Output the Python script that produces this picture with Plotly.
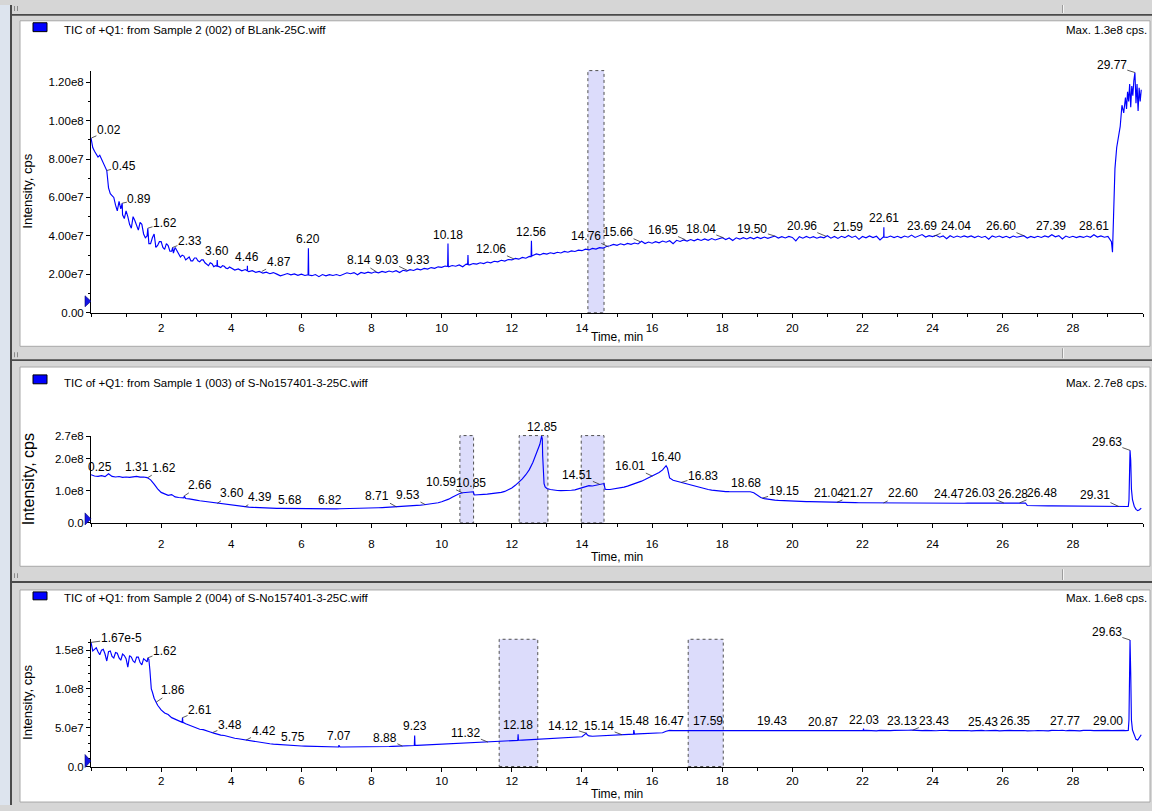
import numpy as np
import plotly.graph_objects as go

W, H = 1152, 811
FONT = "Liberation Sans, Arial, sans-serif"
BLUE = "#0000ff"

# ---------------------------------------------------------------------------
# Sampling grid shared by the three TIC runs (minutes): 0.0 ... 29.4
GRID_T = [round(0.1 * i, 1) for i in range(295)]

# Run A: Sample 2 (002) of BLank-25C.wiff  -- intensity in 1e6 cps
BLANK_I = [
    91, 84, 81, 80, 76, 65, 61, 56, 58, 51,
    53, 46, 50, 45, 47, 41, 40, 36, 41, 35,
    37, 33, 35, 32, 34, 31, 30, 27.5, 29, 27,
    28.5, 26.5, 27.5, 25, 26, 24, 27.5, 23.5, 24.2, 23,
    23.2, 22.2, 22.8, 21.8, 22.5, 21.4, 21.9, 21, 21.5, 20.6,
    21.1, 20.3, 20.9, 20.1, 19.2, 19.8, 20.4, 19.7, 20.2, 19.5,
    20.1, 19.4, 33.5, 19.3, 19.9, 18.8, 19.9, 19.2, 19.8, 19.4,
    19.9, 19.3, 20.2, 20.8, 20.3, 20.9, 19.8, 21, 20.5, 21.1,
    20.6, 21.3, 20.8, 21.5, 21, 21.7, 21.2, 21.9, 20.9, 22.1,
    21.7, 22.4, 22, 22.8, 22.3, 23.1, 22.7, 23.5, 23.1, 23.9,
    23.6, 24.3, 23.9, 24.6, 24.2, 24.9, 23.9, 25.3, 24.9, 25.6,
    25.3, 26, 25.6, 26.4, 26, 26.8, 26.5, 27.3, 26.9, 27.7,
    27.5, 28.3, 27.9, 28.8, 28.4, 29.3, 29.8, 30.6, 30.1, 30.9,
    30.5, 31.2, 30.8, 31.5, 31.1, 31.9, 31.5, 32.2, 31.9, 32.6,
    32.3, 33.1, 32.7, 33.5, 33.1, 33.9, 33.6, 34.5, 34.9, 35.6,
    35.1, 35.9, 35.3, 36.1, 35.6, 36.3, 35.8, 37.2, 36, 36.8,
    36.2, 37, 36.4, 37.3, 36.7, 37.5, 35.9, 37.7, 37.1, 37.9,
    37.3, 38.1, 37.4, 38.3, 37.6, 38.4, 37.7, 38.6, 37.9, 38.7,
    39.1, 38.1, 38.9, 37.6, 39, 38.3, 39.1, 38.4, 39.2, 38.5,
    39.3, 38.6, 39.4, 38.7, 39.3, 39.9, 38.9, 39.6, 38.9, 39.7,
    39.2, 37.4, 39.6, 38.8, 39.7, 38.9, 39.6, 38.8, 39.5, 39,
    40.1, 38.8, 39.7, 38.7, 39.8, 39.1, 40.2, 39.2, 39.9, 38.2,
    39.7, 39, 40, 39.1, 39.8, 37.9, 39.5, 39.2, 39.9, 39.1,
    39.8, 39, 39.9, 39.3, 40.4, 39.2, 40, 40.7, 39.4, 40.1,
    39.6, 40.3, 39.3, 40, 38.5, 40.1, 39.2, 39.9, 39.3, 40,
    39.4, 40, 39.1, 39.9, 39.2, 39.8, 38.3, 40, 39.3, 39.9,
    39.1, 39.8, 39, 39.9, 39.3, 39.7, 40.1, 38.9, 39.7, 39.1,
    39.8, 39.2, 40, 39.4, 40.6, 39.5, 40.1, 38.4, 39.9, 39.2,
    39.8, 39.1, 39.7, 39.2, 39.9, 39.3, 40.6, 39.4, 40, 39.3,
    39.7, 37, 75, 92, 108,
]
# extra samples (noisy start, narrow spikes, end-of-run wash)
BLANK_EXTRA_T = [
    0.05, 0.15, 0.25, 0.35, 0.45, 0.55, 0.65, 0.75, 0.85, 0.89,
    0.95, 1.05, 1.15, 1.25, 1.35, 1.45, 1.55, 1.62, 1.65, 1.75,
    1.85, 1.95, 2.05, 2.15, 2.25, 2.33, 2.35, 2.45, 2.55, 2.65,
    2.75, 2.85, 2.95, 3.05, 3.15, 3.25, 3.35, 3.45, 3.55, 3.59,
    3.61, 3.65, 3.75, 3.85, 3.95, 4.455, 4.46, 4.465, 6.19, 6.21,
    10.17, 10.18, 10.19, 10.74, 10.75, 10.76, 12.55, 12.56, 12.57, 22.605,
    22.61, 22.615, 29.13, 29.16, 29.25, 29.35, 29.45, 29.5, 29.53, 29.56,
    29.59, 29.62, 29.65, 29.68, 29.71, 29.74, 29.77, 29.8, 29.83, 29.86,
    29.89, 29.92, 29.95,
]
BLANK_EXTRA_I = [
    86, 82.5, 82, 78, 74, 62, 60, 53, 54, 57,
    49, 50, 44, 48, 43, 46, 39, 44, 36, 39,
    34, 37, 34, 36, 32, 34, 31, 32.5, 29, 29.5,
    28.5, 27, 28.5, 27, 27.5, 26, 24.5, 25.5, 24.5, 24.2,
    24.3, 24, 24.5, 23.2, 23.8, 21.8, 24.5, 21.8, 19.8, 19.6,
    24.1, 36, 24.3, 25.2, 30, 25, 29.2, 37.5, 29.5, 39.2,
    44.5, 39.4, 31.5, 50, 86, 97, 104, 112, 106, 115,
    110, 119, 107, 118, 113, 121, 125, 109, 119, 105,
    117, 110, 116,
]

# Run B: Sample 1 (003) of S-No157401-3-25C.wiff
S1_I = [
    150, 146, 145, 147, 144, 153, 145, 143, 144.5, 142,
    143, 142, 143.5, 145, 142.5, 143, 141, 134, 121, 106,
    95, 91, 86, 88, 81, 79, 78, 76, 75, 72,
    71, 69, 67.5, 66, 64, 62.5, 61, 60, 59, 56,
    54.5, 53, 52, 51, 50, 49, 48.5, 47.8, 47.3, 46.8,
    46.4, 46, 45.7, 45.4, 45.2, 45, 44.8, 44.6, 44.4, 44.2,
    44, 43.9, 43.8, 43.8, 43.7, 43.7, 43.6, 43.6, 43.7, 43.7,
    43.8, 43.9, 44, 44.2, 44.4, 44.6, 44.9, 45.2, 45.5, 45.9,
    46.3, 46.7, 47.2, 47.7, 48.2, 48.8, 49.4, 50, 50.6, 51.3,
    52, 52.8, 53.6, 54.5, 55.5, 56.6, 57.8, 59.2, 60.8, 62.6,
    66, 69, 74, 80, 86, 91, 94, 95, 96, 97,
    88, 88.5, 89, 89.5, 90.5, 91.5, 93, 95, 98, 103,
    109, 117, 126, 137, 150, 166, 188, 215, 245, 150,
    107, 104, 102, 101, 100.5, 100.5, 101, 101.5, 103, 106,
    110, 113, 116, 115, 118, 120, 123, 104, 104, 105.5,
    107, 109, 111.5, 114.5, 118, 122, 126, 130, 135, 140,
    145, 150, 157, 165, 178, 140, 133, 130, 127, 124,
    121, 117.5, 114, 111, 108.5, 106, 104, 102, 100.5, 99,
    98, 97.5, 97.2, 97, 97.2, 97, 97.3, 97.5, 97, 94,
    86, 79, 75.5, 73.5, 72, 70.8, 70, 69.3, 68.7, 68.2,
    67.8, 67.4, 67, 66.6, 66.3, 66, 65.6, 65.3, 65, 64.8,
    64.6, 64.3, 64.1, 63.9, 63.7, 63.5, 63.3, 63.1, 63, 62.8,
    62.7, 62.6, 62.5, 62.4, 62.3, 62.2, 62.1, 62, 61.9, 61.9,
    61.8, 61.7, 61.7, 61.6, 61.6, 61.5, 61.5, 61.4, 61.4, 61.3,
    61.3, 61.2, 61.2, 61.2, 61.1, 61.1, 61.2, 61.2, 61.3, 61.3,
    61.4, 61.5, 61.5, 61.6, 61.7, 61.8, 61.9, 62, 62.1, 62.2,
    62.3, 62.4, 62.5, 62.6, 62.5, 62.3, 62, 54, 53.5, 53.3,
    53.2, 53.1, 53, 52.9, 52.9, 52.8, 52.7, 51.6, 51.5, 51.4,
    51.4, 51.3, 51.3, 51.2, 51.2, 51.2, 51.1, 51.1, 51.1, 51.1,
    51.1, 51, 51, 51, 51,
]
S1_EXTRA_T = [
    2.65, 2.66, 2.68, 10.93, 12.85, 12.87, 12.88, 12.92, 12.95, 14.63,
    14.66, 16.44, 16.47, 26.65, 29.45, 29.5, 29.55, 29.58, 29.6, 29.62,
    29.63, 29.65, 29.67, 29.7, 29.75, 29.8, 29.85, 29.9, 29.95,
]
S1_EXTRA_I = [
    78, 84, 77, 87, 270, 262, 210, 122, 112, 122.5,
    105, 170, 150, 61.8, 51, 51, 50.9, 51, 70, 190,
    226, 195, 105, 72, 52, 42, 38, 41, 46,
]

# Run C: Sample 2 (004) of S-No157401-3-25C.wiff
S2_I = [
    160, 151, 148, 150, 145, 148, 142, 147, 140, 145,
    139, 143, 136, 141, 134, 139, 135, 112, 88, 79,
    73, 69, 67, 63, 61, 58, 57, 55, 53, 51.5,
    50, 48, 47.5, 45.5, 44.5, 43, 41.5, 40.5, 40, 38.5,
    37.5, 36.5, 35.8, 35, 34.2, 33.2, 32.4, 31.7, 31, 30.4,
    29.8, 29.3, 28.8, 28.4, 28, 27.7, 27.4, 27.1, 26.9, 26.7,
    26.5, 26.3, 26.1, 26, 25.8, 25.7, 25.6, 25.5, 25.4, 25.3,
    25.2, 25.2, 25.1, 25.1, 25, 25, 25, 25.1, 25.1, 25.2,
    25.3, 25.4, 25.5, 25.6, 25.7, 25.8, 26, 26.1, 26.3, 26.5,
    26.7, 26.9, 27.1, 27.3, 27.5, 27.7, 27.9, 28.1, 28.3, 28.5,
    28.7, 28.9, 29.1, 29.3, 29.5, 29.7, 29.9, 30.1, 30.3, 30.5,
    30.7, 31, 31.2, 31.5, 31.7, 32, 32.2, 32.5, 32.8, 33,
    33.3, 33.5, 33.8, 34, 34.3, 34.6, 34.9, 35.2, 35.5, 35.8,
    36.1, 36.3, 36.5, 36.7, 36.9, 37.1, 37.3, 37.5, 37.7, 38,
    38.3, 42, 39.5, 39, 39.2, 39.5, 39.8, 40, 40.3, 40.5,
    40.7, 40.9, 41.1, 41.3, 41.5, 41.8, 42, 42.2, 42.4, 42.6,
    42.8, 43, 43.2, 43.5, 45.5, 46.5, 46.3, 46.3, 46.2, 46.3,
    46.2, 46.6, 46, 46.5, 46.1, 46.7, 46.2, 46.4, 45.9, 46.5,
    46.1, 46.6, 46.2, 46.5, 46, 46.6, 46.1, 46.4, 46.2, 46.7,
    46.1, 46.5, 46, 46.6, 46.2, 46.4, 46.1, 46.6, 46.2, 46.5,
    46, 46.6, 46.2, 46.4, 45.9, 46.5, 46.2, 46.7, 46.1, 46.4,
    46.2, 46.5, 46, 46.6, 46.1, 46.4, 46.2, 46.6, 46, 46.5,
    46.3, 46.6, 46.1, 46.4, 46, 46.5, 46.2, 46.8, 46.3, 46.6,
    46.4, 46.8, 46.3, 46.7, 46.9, 46.5, 46.8, 46.3, 46.6, 46.2,
    46.5, 46.1, 46.4, 46, 46.5, 46.2, 46.4, 46, 46.3, 46.1,
    46.4, 46, 46.5, 46.2, 46.6, 46.1, 46.4, 46.2, 46.5, 46,
    46.4, 46.1, 46.5, 46.3, 46.6, 46.2, 46.4, 46, 46.5, 46.1,
    46.4, 46.2, 46.5, 46, 46.6, 46.2, 46.4, 46.7, 46.1, 46.5,
    46.2, 46.4, 46, 46.5, 46.1, 46.6, 46.3, 46.5, 46.9, 46.4,
    46.6, 46.2, 46.5, 46.1, 46.4,
]
S2_EXTRA_T = [
    0.05, 0.15, 0.25, 0.35, 0.45, 0.55, 0.65, 0.75, 0.85, 0.95,
    1.05, 1.15, 1.25, 1.35, 1.45, 1.55, 1.62, 1.65, 1.68, 1.72,
    1.75, 2.61, 2.62, 7.06, 7.07, 7.08, 9.22, 9.23, 9.24, 12.17,
    12.18, 12.19, 14.12, 14.15, 15.47, 15.48, 15.49, 22.02, 22.03, 22.04,
    29.45, 29.5, 29.55, 29.58, 29.6, 29.62, 29.63, 29.65, 29.67, 29.7,
    29.75, 29.8, 29.85, 29.9, 29.95,
]
S2_EXTRA_I = [
    149, 153, 144, 151, 136, 149, 140, 146, 137, 143,
    128, 141, 134, 141, 131, 137, 140, 138, 124, 100,
    96, 63, 57, 25.2, 27.5, 25.2, 27.1, 40, 27.2, 33.7,
    41.5, 33.7, 43, 41, 41.7, 47, 41.8, 46.3, 49, 46.4,
    46.5, 46.2, 46.6, 46.5, 60, 140, 163, 120, 60, 47,
    40, 35, 34, 37, 41,
]

# Peak labels: retention-time text and intensity (1e6 cps) at the labelled point
BLANK_LABELS = ["0.02", "0.45", "0.89", "1.62", "2.33", "3.60", "4.46", "4.87", "6.20",
                "8.14", "9.03", "9.33", "10.18", "12.06", "12.56", "14.76", "15.66",
                "16.95", "18.04", "19.50", "20.96", "21.59", "22.61", "23.69", "24.04",
                "26.60", "27.39", "28.61", "29.77"]
BLANK_LABEL_I = [91, 74, 57, 44, 34, 27.5, 24.5, 21.5, 33.5,
                 21.3, 22, 22.8, 36, 28, 37.5, 34.3, 37,
                 38, 39, 39.9, 39.8, 40.2, 44.5, 40.7, 39.8,
                 40.1, 40.6, 40.6, 125]

S1_LABELS = ["0.25", "1.31", "1.62", "2.66", "3.60", "4.39", "5.68", "6.82", "8.71",
             "9.53", "10.59", "10.85", "12.85", "14.51", "16.01", "16.40", "16.83",
             "18.68", "19.15", "21.04", "21.27", "22.60", "24.47", "26.03", "26.28",
             "26.48", "29.31", "29.63"]
S1_LABEL_I = [146, 145, 141, 84, 61, 50, 44.6, 43.7, 50,
              57, 93.7, 96.5, 270, 120, 145.5, 178, 126,
              97.5, 77, 64.5, 64, 62.1, 61.1, 62.3, 62.6,
              62.3, 51, 226]

S2_LABELS = ["1.67e-5", "1.62", "1.86", "2.61", "3.48", "4.42", "5.75", "7.07", "8.88",
             "9.23", "11.32", "12.18", "14.12", "15.14", "15.48", "16.47", "17.59",
             "19.43", "20.87", "22.03", "23.13", "23.43", "25.43", "26.35", "27.77",
             "29.00", "29.63"]
S2_LABEL_I = [160, 140, 83, 63, 44, 34, 27, 27.5, 26.3,
              40, 31.5, 41.5, 43, 41, 47, 46.5, 46.5,
              46.5, 46.4, 49, 46.8, 46.8, 46.2, 46.5, 46.6,
              46.6, 163]

# Highlighted time windows (min)
BLANK_WINDOWS = [(14.17, 14.63)]
S1_WINDOWS = [(10.52, 10.91), (12.21, 13.03), (13.98, 14.63)]
S2_WINDOWS = [(11.64, 12.74), (17.03, 18.03)]

# Axis ticks
X_TICKS = [2, 4, 6, 8, 10, 12, 14, 16, 18, 20, 22, 24, 26, 28]
BLANK_YTICKS = [0, 2e7, 4e7, 6e7, 8e7, 1e8, 1.2e8]
BLANK_YTEXT = ["0.00", "2.00e7", "4.00e7", "6.00e7", "8.00e7", "1.00e8", "1.20e8"]
S1_YTICKS = [0, 1e8, 2e8, 2.7e8]
S1_YTEXT = ["0.0", "1.0e8", "2.0e8", "2.7e8"]
S2_YTICKS = [0, 5e7, 1e8, 1.5e8]
S2_YTEXT = ["0.0", "5.0e7", "1.0e8", "1.5e8"]

# ---------------------------------------------------------------------------
# Label text placement for labels drawn with a leader line:
# label text -> (text-centre time, text-centre intensity in 1e6 cps)
LABEL_LEADERS = {
    1: {"0.02": (0.51, 94.9), "0.45": (0.93, 76.4), "0.89": (1.38, 59.0), "1.62": (2.11, 46.7),
        "2.33": (2.82, 37.4), "4.87": (5.35, 26.2), "8.14": (7.63, 27.2), "9.03": (8.43, 27.2),
        "12.06": (11.42, 33.3), "14.76": (14.11, 40.0), "15.66": (15.03, 42.1),
        "16.95": (16.30, 43.1), "18.04": (17.39, 43.6), "19.50": (18.86, 43.6),
        "20.96": (20.27, 45.1), "24.04": (24.67, 45.1), "26.60": (25.95, 45.1),
        "29.77": (29.11, 128.7)},
    2: {"1.62": (2.08, 172), "2.66": (3.11, 117), "3.60": (4.03, 92), "4.39": (4.82, 80),
        "8.71": (8.17, 83), "9.53": (9.04, 86), "10.59": (9.97, 126), "14.51": (13.87, 150),
        "16.01": (15.38, 178), "16.83": (17.45, 147), "19.15": (19.75, 98),
        "21.27": (21.87, 92), "22.60": (23.15, 92), "26.03": (25.36, 92),
        "26.48": (27.12, 92), "29.31": (28.63, 86), "29.63": (28.97, 252)},
    3: {"1.67e-5": (0.86, 165), "1.62": (2.11, 149), "1.86": (2.35, 98), "2.61": (3.11, 72.5),
        "3.48": (3.96, 53.4), "4.42": (4.92, 45.8), "8.88": (8.38, 36.9), "11.32": (10.69, 43.2),
        "14.12": (13.47, 52.2), "15.14": (14.49, 52.2), "23.43": (24.05, 58.5),
        "29.63": (28.97, 173)},
}

# Pane geometry (pixels) and per-pane settings
PANES = [
    dict(n=1, grid=BLANK_I, et=BLANK_EXTRA_T, ei=BLANK_EXTRA_I, labels=BLANK_LABELS,
         label_i=BLANK_LABEL_I, windows=BLANK_WINDOWS, yt=BLANK_YTICKS, ytext=BLANK_YTEXT,
         ymax=1.26e8, bottom=312, top=66.5, minor=1e7,
         white=(16, 346), title_y=25, icon=(18, 27),
         title="TIC of +Q1: from Sample 2 (002) of BLank-25C.wiff", maxtxt="Max. 1.3e8 cps.",
         ytitle_size=13, xtitle_y=337, tri="M-6,6 L0,11.5 L-6,17 Z", standoff=None),
    dict(n=2, grid=S1_I, et=S1_EXTRA_T, ei=S1_EXTRA_I, labels=S1_LABELS,
         label_i=S1_LABEL_I, windows=S1_WINDOWS, yt=S1_YTICKS, ytext=S1_YTEXT,
         ymax=2.72e8, bottom=525, top=436.5, minor=None,
         white=(367, 569), title_y=383, icon=(375, 384),
         title="TIC of +Q1: from Sample 1 (003) of S-No157401-3-25C.wiff", maxtxt="Max. 2.7e8 cps.",
         ytitle_size=16, xtitle_y=560, tri="M-6,-2 L0,4 L-6,10 Z", standoff=6),
    dict(n=3, grid=S2_I, et=S2_EXTRA_T, ei=S2_EXTRA_I, labels=S2_LABELS,
         label_i=S2_LABEL_I, windows=S2_WINDOWS, yt=S2_YTICKS, ytext=S2_YTEXT,
         ymax=1.64e8, bottom=772, top=643, minor=1e7,
         white=(593, 808), title_y=601, icon=(595, 603),
         title="TIC of +Q1: from Sample 2 (004) of S-No157401-3-25C.wiff", maxtxt="Max. 1.6e8 cps.",
         ytitle_size=13, xtitle_y=800, tri="M-6,-1 L0,5.5 L-6,12 Z", standoff=None),
]

X_LEFT, X_RIGHT = 91, 1143


def fx(x):
    return x / W


def fy(y):
    return 1 - y / H


def paper_rect(x0, y0, x1, y1, fill, line=None, lw=0, layer="below"):
    return dict(type="rect", xref="paper", yref="paper",
                x0=fx(x0), x1=fx(x1), y0=fy(y1), y1=fy(y0),
                fillcolor=fill, line=dict(color=line or fill, width=lw), layer=layer)


fig = go.Figure()
shapes = []
annotations = []

# window chrome
shapes.append(paper_rect(0, 0, 10, H, "#dde4ee"))
shapes.append(paper_rect(10, 0, 12, H, "#4a4a4a"))
shapes.append(paper_rect(12, 9, W, 11, "#4a4a4a"))
shapes.append(paper_rect(12, 359, W, 361, "#4a4a4a"))
shapes.append(paper_rect(12, 584, W, 586, "#4a4a4a"))
for y0, y1 in [(0, 8), (348, 358), (572, 583)]:
    shapes.append(paper_rect(1062, y0, 1063, y1, "#9c9c9c"))
    shapes.append(paper_rect(1063, y0, 1064, y1, "#f4f4f4"))
for yg in [1, 352, 576]:
    for xg in [14, 17]:
        shapes.append(paper_rect(xg, yg, xg + 1, yg + 5, "#8a8a8a"))

for p in PANES:
    n = p["n"]
    sfx = "" if n == 1 else str(n)
    xa, ya = "x" + sfx, "y" + sfx

    # white pane
    shapes.append(paper_rect(20, p["white"][0], 1150, p["white"][1], "white", "#a8a8a8", 1))

    # chromatogram trace
    t = np.array(GRID_T + p["et"], dtype=float)
    v = np.array(p["grid"] + p["ei"], dtype=float) * 1e6
    order = np.argsort(t, kind="stable")
    fig.add_trace(go.Scatter(x=t[order], y=v[order], mode="lines",
                             line=dict(color=BLUE, width=1.15), xaxis=xa, yaxis=ya,
                             hoverinfo="skip", showlegend=False))

    # highlighted windows
    for w0, w1 in p["windows"]:
        shapes.append(dict(type="rect", xref=xa, yref=ya + " domain", x0=w0, x1=w1, y0=0, y1=1,
                           fillcolor="#dcdcfb", line=dict(color="#505050", width=1, dash="dot"),
                           layer="below"))

    # baseline marker on the intensity axis
    shapes.append(dict(type="path", xref=xa + " domain", yref=ya + " domain",
                       xsizemode="pixel", ysizemode="pixel", xanchor=0, yanchor=0,
                       path=p["tri"], fillcolor="#1414e6", line=dict(color="#000070", width=0.6),
                       layer="above"))

    # axes
    xaxis = dict(domain=[fx(X_LEFT), fx(X_RIGHT)], range=[0, 30], anchor=ya,
                 tickmode="array", tickvals=X_TICKS, ticktext=[str(v_) for v_ in X_TICKS],
                 ticks="outside", ticklen=4, tickwidth=1, tickcolor="black",
                 showline=True, linecolor="black", linewidth=1, showgrid=False, zeroline=False,
                 tickfont=dict(family=FONT, size=11.5, color="black"),
                 minor=dict(tickmode="linear", tick0=0, dtick=1, ticks="outside", ticklen=3,
                            tickcolor="black", showgrid=False),
                 fixedrange=True)
    if p["standoff"]:
        xaxis["ticklabelstandoff"] = p["standoff"]
    yaxis = dict(domain=[fy(p["bottom"]), fy(p["top"])], range=[0, p["ymax"]], anchor=xa,
                 tickmode="array", tickvals=p["yt"], ticktext=p["ytext"],
                 ticks="outside", ticklen=4, tickwidth=1, tickcolor="black",
                 showline=True, linecolor="black", linewidth=1, showgrid=False, zeroline=False,
                 tickfont=dict(family=FONT, size=11.5, color="black"), fixedrange=True)
    if p["minor"]:
        yaxis["minor"] = dict(tickmode="linear", tick0=0, dtick=p["minor"], ticks="outside",
                              ticklen=2, tickcolor="black", showgrid=False)
    fig.update_layout(**{"xaxis" + sfx: xaxis, "yaxis" + sfx: yaxis})

    # pane header
    shapes.append(paper_rect(33, p["icon"][0], 47, p["icon"][1], "#0000ff", "#000000", 1, "above"))
    annotations.append(dict(xref="paper", yref="paper", x=fx(62), y=fy(p["title_y"]),
                            xanchor="left", yanchor="middle", text=p["title"], showarrow=False,
                            font=dict(family=FONT, size=11.5, color="black")))
    annotations.append(dict(xref="paper", yref="paper", x=fx(1149), y=fy(p["title_y"]),
                            xanchor="right", yanchor="middle", text=p["maxtxt"], showarrow=False,
                            font=dict(family=FONT, size=11.5, color="black")))
    # axis titles
    annotations.append(dict(xref="paper", yref="paper", x=fx(28),
                            y=fy((p["bottom"] + p["top"]) / 2), textangle=-90,
                            xanchor="center", yanchor="middle", text="Intensity, cps",
                            showarrow=False, font=dict(family=FONT, size=p["ytitle_size"], color="black")))
    annotations.append(dict(xref="paper", yref="paper", x=fx(617), y=fy(p["xtitle_y"]),
                            xanchor="center", yanchor="middle", text="Time, min", showarrow=False,
                            font=dict(family=FONT, size=12, color="black")))

    # peak labels
    leaders = LABEL_LEADERS[n]
    for txt, yi in zip(p["labels"], p["label_i"]):
        t_lab = float(txt)
        if txt in leaders:
            tx, ty = leaders[txt]
            annotations.append(dict(xref=xa, yref=ya, x=t_lab, y=yi * 1e6,
                                    axref=xa, ayref=ya, ax=tx, ay=ty * 1e6, text=txt,
                                    showarrow=True, arrowhead=0, arrowwidth=0.8,
                                    arrowcolor="#303030", standoff=0, borderpad=0,
                                    font=dict(family=FONT, size=12, color="black")))
        else:
            annotations.append(dict(xref=xa, yref=ya, x=t_lab, y=yi * 1e6, text=txt,
                                    showarrow=False, xanchor="center", yanchor="bottom",
                                    yshift=1, borderpad=0,
                                    font=dict(family=FONT, size=12, color="black")))

fig.update_layout(
    width=W, height=H, autosize=False,
    margin=dict(l=0, r=0, t=0, b=0, pad=0),
    paper_bgcolor="#d6d6d6", plot_bgcolor="rgba(0,0,0,0)",
    showlegend=False, shapes=shapes, annotations=annotations,
    font=dict(family=FONT, color="black"),
)

fig.write_html("out.html")
